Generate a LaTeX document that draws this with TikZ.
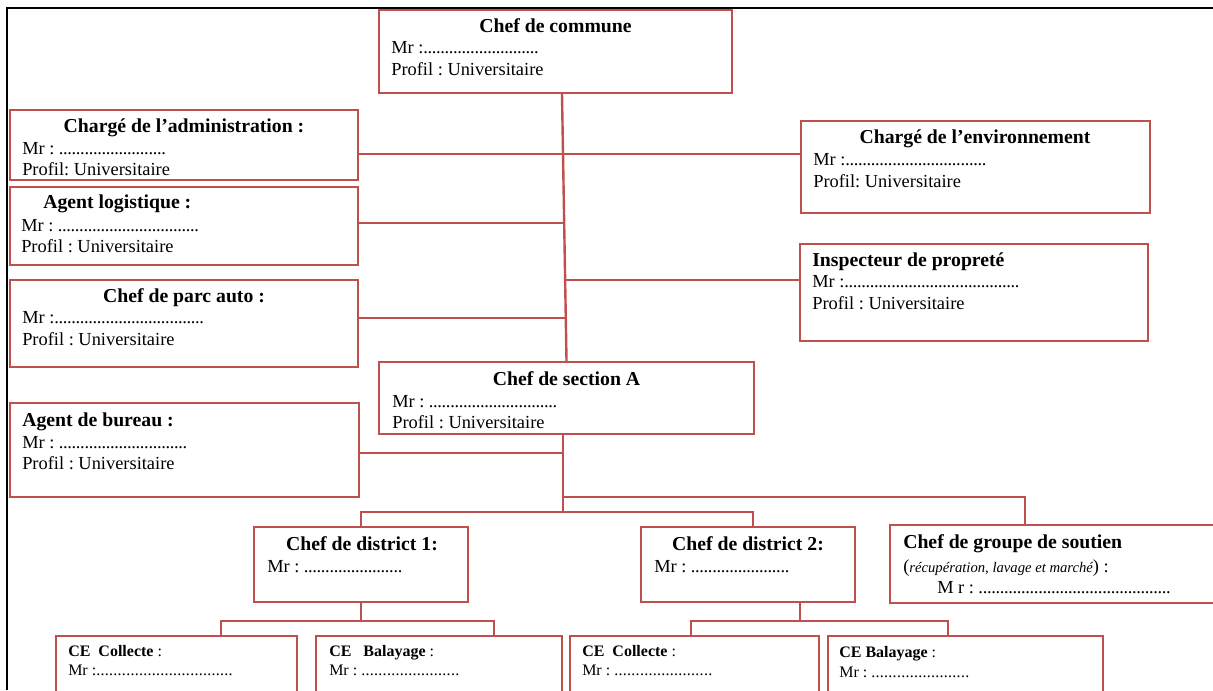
\documentclass[tikz,border=0pt]{standalone}
\usepackage{fontspec}
\setmainfont{Liberation Serif}
\usetikzlibrary{fit}
\definecolor{boxred}{HTML}{C0504D}
\newlength\pxu \setlength\pxu{0.75pt}
% a run of dots of a given width (in px)
\newcommand\dotrun[1]{\hbox to #1\pxu{\leaders\hbox to 3.2pt{\hss.\hss}\hfill}}
\newcommand\ttlfont{\fontsize{14.8}{17}\selectfont\bfseries}
\newcommand\bodyfont{\fontsize{13.8}{16}\selectfont}
\newcommand\cefont{\fontsize{12}{14}\selectfont}
\newcommand\smallit{\fontsize{11}{13}\selectfont\itshape}
\frenchspacing

\begin{document}
\begin{tikzpicture}[x=0.75pt,y=-0.75pt,
  box/.style={draw=boxred, line width=1.8pt, inner sep=0pt},
  link/.style={draw=boxred, line width=1.8pt},
  ttl/.style={inner sep=0pt, anchor=base, font=\ttlfont},
  ttll/.style={inner sep=0pt, anchor=base west, font=\ttlfont},
  txt/.style={inner sep=0pt, anchor=base west, font=\bodyfont},
  cet/.style={inner sep=0pt, anchor=base west, font=\cefont},
]
\useasboundingbox (0,0) rectangle (1213,690);
% page frame
\draw[line width=1.8pt] (7,690) -- (7,8) -- (1213,8);

% boxes
\node[box, fit={(379,10) (732,93)}] (cc) {};
\node[box, fit={(10,110) (358,180)}] (adm) {};
\node[box, fit={(10,187) (358,265)}] (log) {};
\node[box, fit={(10,280) (358,367)}] (parc) {};
\node[box, fit={(10,403) (359,497)}] (bur) {};
\node[box, fit={(379,362) (754,434)}] (sec) {};
\node[box, fit={(801,121) (1150,213)}] (env) {};
\node[box, fit={(800,244) (1148,341)}] (ins) {};
\node[box, fit={(254,527) (468,602)}] (d1) {};
\node[box, fit={(641,527) (855,602)}] (d2) {};
\node[box, fit={(890,525) (1225,603)}] (grp) {};
\node[box, fit={(56,636) (297,700)}] (ce1) {};
\node[box, fit={(316,636) (562,700)}] (ce2) {};
\node[box, fit={(570,636) (819,700)}] (ce3) {};
\node[box, fit={(828,636) (1103,700)}] (ce4) {};

% texts
\node[ttl] (cct) at (555.5,32) {Chef de commune};
\node[txt] (ccm) at (391,53) {Mr :\dotrun{118}};
\node[txt] (ccp) at (391,75) {Profil : Universitaire};

\node[ttl] (admt) at (184,132) {Chargé de l’administration :};
\node[txt] (admm) at (22,154) {Mr : \dotrun{109}};
\node[txt] (admp) at (22,175) {Profil: Universitaire};

\node[ttll] (logt) at (43,208) {Agent logistique :};
\node[txt] (logm) at (21,231) {Mr : \dotrun{144}};
\node[txt] (logp) at (21,252) {Profil : Universitaire};

\node[ttl] (parct) at (184,302) {Chef de parc auto :};
\node[txt] (parcm) at (22,323) {Mr :\dotrun{153}};
\node[txt] (parcp) at (22,345) {Profil : Universitaire};

\node[ttll] (burt) at (22,426) {Agent de bureau :};
\node[txt] (burm) at (22,448) {Mr : \dotrun{132}};
\node[txt] (burp) at (22,469) {Profil : Universitaire};

\node[ttl] (sect) at (566.5,385) {Chef de section A};
\node[txt] (secm) at (392,407) {Mr : \dotrun{132}};
\node[txt] (secp) at (392,428) {Profil : Universitaire};

\node[ttl] (envt) at (975,143) {Chargé de l’environnement};
\node[txt] (envm) at (813,165) {Mr :\dotrun{145}};
\node[txt] (envp) at (813,187) {Profil: Universitaire};

\node[ttll] (inst) at (812,266) {Inspecteur de propreté};
\node[txt] (insm) at (812,287) {Mr :\dotrun{178}};
\node[txt] (insp) at (812,309) {Profil : Universitaire};

\node[ttl] (d1t) at (362,550) {Chef de district 1:};
\node[txt] (d1m) at (267,572) {Mr : \dotrun{100}};

\node[ttl] (d2t) at (748,550) {Chef de district 2:};
\node[txt] (d2m) at (654,572) {Mr : \dotrun{99}};

\node[ttll] (grpt) at (903,548) {Chef de groupe de soutien};
\node[txt] (grps) at (903,572) {({\smallit récupération, lavage et marché}) :};
\node[txt] (grpm) at (937,593) {M r : \dotrun{193}};

\node[cet] (ce1t) at (68,656) {\textbf{CE\ \ Collecte} :};
\node[cet] (ce1m) at (68,675) {Mr :\dotrun{139}};
\node[cet] (ce2t) at (329,656) {\textbf{CE\ \ \ Balayage} :};
\node[cet] (ce2m) at (329,675) {Mr : \dotrun{101}};
\node[cet] (ce3t) at (582,656) {\textbf{CE\ \ Collecte} :};
\node[cet] (ce3m) at (582,675) {Mr : \dotrun{99}};
\node[cet] (ce4t) at (839,657) {\textbf{CE Balayage} :};
\node[cet] (ce4m) at (839,677) {Mr : \dotrun{101}};

% junctions
\coordinate (jlog) at (564.2,223);
\coordinate (jins) at (565.1,280);
\coordinate (jparc) at (565.7,318);
\coordinate (jbur) at (563,453);
\coordinate (jgrp) at (563,497);
\coordinate (jbus) at (563,512);
\coordinate (b1) at (361,621);
\coordinate (b2) at (800,621);

% connectors
\draw[link] (cc.south -| 562,0) -- (sec.north);
\draw[link] (adm.east |- 0,154) -- (env.west |- 0,154);
\draw[link] (log.east |- jlog) -- (jlog);
\draw[link] (jins) -- (ins.west |- jins);
\draw[link] (parc.east |- jparc) -- (jparc);
\draw[link] (sec.south -| jbus) -- (jbus);
\draw[link] (bur.east |- jbur) -- (jbur);
\draw[link] (jgrp) -| (grp.north -| 1025,0);
\draw[link] (d1.north) |- (jbus) -| (d2.north -| 753,0);
\draw[link] (d1.south) -- (b1);
\draw[link] (ce1.north -| 221,0) |- (b1) -| (ce2.north -| 494,0);
\draw[link] (d2.south -| b2) -- (b2);
\draw[link] (ce3.north -| 691,0) |- (b2) -| (ce4.north -| 948,0);
\end{tikzpicture}
\end{document}
